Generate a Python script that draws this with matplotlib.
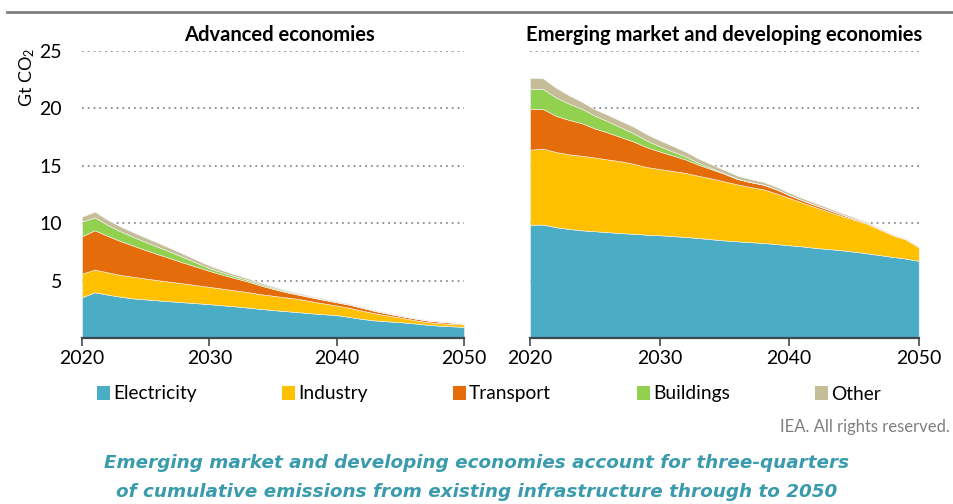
import matplotlib
matplotlib.use("Agg")
import matplotlib.pyplot as plt
import numpy as np
from matplotlib.patches import Patch
from matplotlib.lines import Line2D

plt.rcParams['font.family'] = ['Lato', 'DejaVu Sans']
plt.rcParams['mathtext.default'] = 'regular'

years = np.arange(2020, 2051)
sectors = ["Electricity", "Industry", "Transport", "Buildings", "Other"]
colors = ["#4BACC6", "#FFC000", "#E46C0A", "#92D050", "#C4BD97"]

# Advanced economies (Gt CO2)
adv_electricity = [3.55, 3.98, 3.78, 3.60, 3.45, 3.36, 3.27, 3.19, 3.11, 3.03, 2.95,
                   2.85, 2.76, 2.65, 2.54, 2.43, 2.34, 2.25, 2.15, 2.07, 1.99,
                   1.83, 1.66, 1.53, 1.45, 1.38, 1.28, 1.17, 1.08, 1.02, 0.97]
adv_industry = [2.06, 1.98, 1.94, 1.90, 1.88, 1.82, 1.76, 1.70, 1.64, 1.57, 1.50,
                1.45, 1.39, 1.35, 1.28, 1.25, 1.20, 1.15, 1.05, 0.94, 0.84,
                0.80, 0.72, 0.62, 0.51, 0.40, 0.30, 0.23, 0.22, 0.22, 0.21]
adv_transport = [3.25, 3.42, 3.18, 2.95, 2.72, 2.48, 2.25, 2.03, 1.80, 1.60, 1.40,
                 1.22, 1.07, 0.93, 0.76, 0.60, 0.46, 0.37, 0.34, 0.31, 0.28,
                 0.27, 0.25, 0.20, 0.17, 0.14, 0.14, 0.14, 0.13, 0.10, 0.06]
adv_buildings = [1.28, 1.13, 0.95, 0.85, 0.77, 0.70, 0.64, 0.56, 0.47, 0.35, 0.23,
                 0.20, 0.16, 0.13, 0.12, 0.09, 0.07, 0.05, 0.04, 0.03, 0.03,
                 0.02, 0.02, 0.01, 0.01, 0.01, 0.01, 0.01, 0.01, 0.01, 0.01]
adv_other = [0.43, 0.49, 0.45, 0.42, 0.40, 0.38, 0.35, 0.32, 0.28, 0.25, 0.22,
             0.18, 0.16, 0.14, 0.12, 0.11, 0.09, 0.08, 0.07, 0.07, 0.07,
             0.07, 0.06, 0.06, 0.05, 0.05, 0.04, 0.04, 0.03, 0.02, 0.02]

# Emerging market and developing economies (Gt CO2)
emde_electricity = [9.87, 9.88, 9.65, 9.50, 9.38, 9.30, 9.22, 9.14, 9.08, 9.00, 8.95,
                    8.88, 8.80, 8.71, 8.60, 8.50, 8.42, 8.35, 8.28, 8.18, 8.08,
                    7.98, 7.85, 7.75, 7.65, 7.52, 7.38, 7.22, 7.06, 6.92, 6.72]
emde_industry = [6.53, 6.62, 6.55, 6.50, 6.49, 6.42, 6.33, 6.26, 6.09, 5.89, 5.77,
                 5.67, 5.58, 5.42, 5.30, 5.14, 4.96, 4.80, 4.67, 4.42, 4.12,
                 3.82, 3.55, 3.27, 3.00, 2.78, 2.57, 2.23, 1.89, 1.66, 1.18]
emde_transport = [3.58, 3.45, 3.15, 3.00, 2.84, 2.53, 2.35, 2.10, 1.94, 1.73, 1.53,
                  1.35, 1.17, 0.96, 0.80, 0.66, 0.47, 0.43, 0.40, 0.35, 0.25,
                  0.20, 0.18, 0.16, 0.13, 0.10, 0.08, 0.05, 0.04, 0.03, 0.02]
emde_buildings = [1.72, 1.75, 1.60, 1.42, 1.26, 1.12, 0.98, 0.85, 0.72, 0.58, 0.45,
                  0.35, 0.26, 0.17, 0.10, 0.05, 0.03, 0.02, 0.02, 0.02, 0.02,
                  0.02, 0.02, 0.02, 0.01, 0.01, 0.01, 0.01, 0.01, 0.01, 0.01]
emde_other = [0.95, 0.92, 0.85, 0.72, 0.60, 0.55, 0.55, 0.56, 0.56, 0.55, 0.52,
              0.48, 0.42, 0.36, 0.32, 0.28, 0.26, 0.24, 0.22, 0.20, 0.18,
              0.17, 0.16, 0.14, 0.12, 0.10, 0.08, 0.06, 0.05, 0.05, 0.05]

yticks = [5, 10, 15, 20, 25]
xticks = [2020, 2030, 2040, 2050]

fig = plt.figure(figsize=(9.54, 5.04), dpi=100)

# top rule
fig.add_artist(Line2D([7/954, 1.0], [1 - 12/504, 1 - 12/504], color="#808080", lw=2))

ax_bottom = 1 - 338/504
ax_height = (338 - 51) / 504
ax1 = fig.add_axes([82/954, ax_bottom, (464-82)/954, ax_height])
ax2 = fig.add_axes([530/954, ax_bottom, (918.7-530)/954, ax_height])

panels = [
    (ax1, "Advanced economies", 0.516,
     [adv_electricity, adv_industry, adv_transport, adv_buildings, adv_other]),
    (ax2, "Emerging market and developing economies", 0.5,
     [emde_electricity, emde_industry, emde_transport, emde_buildings, emde_other]),
]

for ax, title, tx, series in panels:
    ax.stackplot(years, *series, colors=colors, linewidth=0.4, edgecolor="#f4f4f4")
    ax.set_xlim(2020, 2050)
    ax.set_ylim(0, 25)
    ax.set_xticks(xticks)
    ax.set_yticks(yticks)
    ax.set_axisbelow(True)
    ax.yaxis.grid(True, linestyle=(0, (1, 2.2)), color="#8c8c8c", linewidth=1.3)
    for s in ["top", "right", "left"]:
        ax.spines[s].set_visible(False)
    ax.spines["bottom"].set_color("#3f4a50")
    ax.spines["bottom"].set_linewidth(1.6)
    ax.tick_params(axis="x", length=6, width=1.2, color="#3f4a50",
                   labelsize=14, pad=3, direction="out")
    ax.tick_params(axis="y", length=0, labelsize=14, pad=14.5)
    ax.set_title(title, fontsize=14.5, fontweight="bold", pad=7, x=tx)

ax2.tick_params(axis="y", labelleft=False)
ax1.set_ylabel("Gt CO$_2$", fontsize=13)
ax1.yaxis.set_label_coords(-0.118, 0.91)

handles = [Patch(facecolor=c, edgecolor="none") for c in colors]
fig.legend(handles, sectors, loc="center left", bbox_to_anchor=(89/954, 1 - 394/504),
           ncol=5, frameon=False, fontsize=13.8, handlelength=0.7, handleheight=0.7,
           handletextpad=0.15, columnspacing=4.45, borderaxespad=0)

fig.text(950/954, 1 - 427/504, "IEA. All rights reserved.", ha="right", va="center",
         fontsize=12, color="#7f7f7f")

cap_color = "#3A9BAD"
cap_font = ["DejaVu Sans"]
fig.text(477/954, 1 - 463/504,
         "Emerging market and developing economies account for three-quarters",
         ha="center", va="center", fontsize=13.2, style="italic", fontweight="bold",
         color=cap_color, family=cap_font)
fig.text(477/954, 1 - 492/504,
         "of cumulative emissions from existing infrastructure through to 2050",
         ha="center", va="center", fontsize=13.2, style="italic", fontweight="bold",
         color=cap_color, family=cap_font)

fig.savefig("out.png", dpi=100)
